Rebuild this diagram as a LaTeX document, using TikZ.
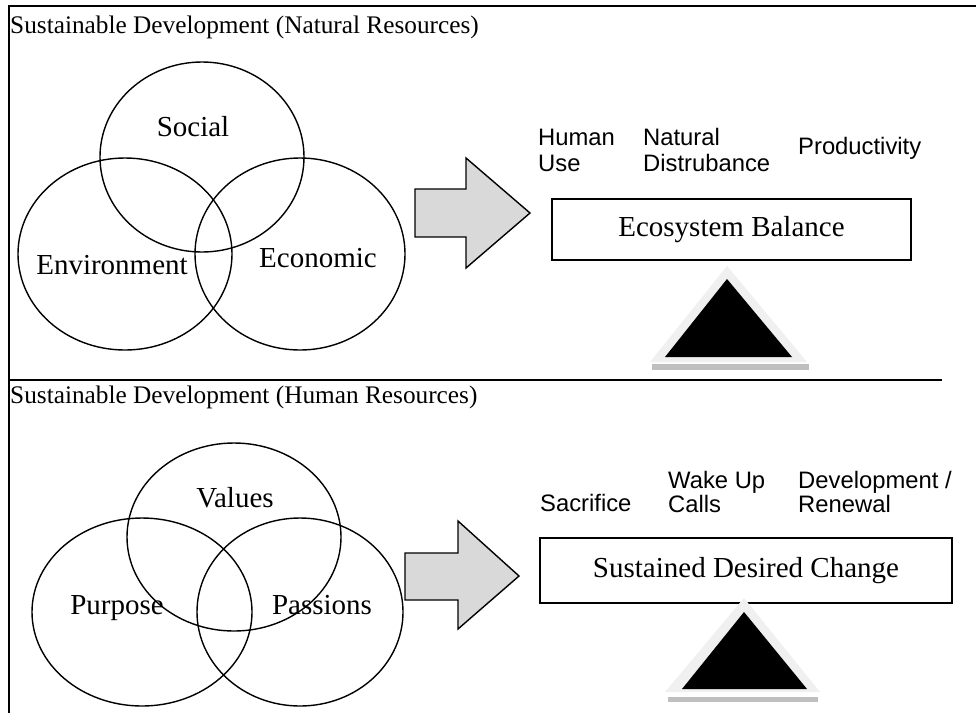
\documentclass[tikz,border=0pt]{standalone}
\usepackage{fontspec}
\setmainfont{Liberation Serif}
\newfontfamily\labelsans{Liberation Sans}
\usetikzlibrary{shapes.geometric}
\definecolor{arrowfill}{HTML}{D9D9D9}
\definecolor{trilight}{HTML}{F0F0F0}
\definecolor{trishadow}{HTML}{BFBFBF}
\begin{document}
\begin{tikzpicture}[x=1pt,y=-1pt,
  frameline/.style={line width=1.6pt},
  vennshape/.style={draw, ellipse, line width=1.4pt, inner sep=0pt},
  vennlabel/.style={font=\fontsize{29}{32}\selectfont, inner sep=0pt},
  titletext/.style={font=\fontsize{25.3}{28}\selectfont, inner sep=0pt, anchor=west},
  sidelabel/.style={font=\labelsans\fontsize{23.8}{26}\selectfont, align=left, inner sep=0pt, anchor=west},
  sidelabeltwo/.style={font=\labelsans\fontsize{23.8}{24}\selectfont, align=left, inner sep=0pt, anchor=west},
  balancebox/.style={draw, line width=1.8pt, inner sep=0pt, font=\fontsize{29}{32}\selectfont},
  blockarrow/.style={draw, fill=arrowfill, line width=1.4pt, line join=miter}
]
\useasboundingbox (0,0) rectangle (976,713);
\fill[white] (0,0) rectangle (976,713);

% frame
\coordinate (tl) at (9,6);
\coordinate (tr) at (976,6);
\coordinate (bl) at (9,713);
\coordinate (ml) at (9,380);
\coordinate (mr) at (942,380);
\draw[frameline] (tr) -- (tl) -- (bl);
\draw[frameline] (ml) -- (mr);

% titles
\node[titletext] (t1) at (10,27) {Sustainable Development (Natural Resources)};
\node[titletext] (t2) at (10,397) {Sustainable Development (Human Resources)};

% Venn 1
\node[vennshape, minimum width=204pt, minimum height=190pt] (social) at (202,157) {};
\node[vennshape, minimum width=214pt, minimum height=192pt] (env) at (125,254) {};
\node[vennshape, minimum width=210pt, minimum height=192pt] (eco) at (300,254) {};
\node[vennlabel] (socialt) at (193,127) {Social};
\node[vennlabel] (envt) at (112,265) {Environment};
\node[vennlabel] (ecot) at (318,258) {Economic};

% arrow 1
\draw[blockarrow] (415,189) -- (466,189) -- (466,158) -- (530,213) -- (466,268) -- (466,237) -- (415,237) -- cycle;

% labels 1
\node[sidelabel] (hu) at (538,150) {Human\\Use};
\node[sidelabel] (nd) at (643,150) {Natural\\Distrubance};
\node[sidelabel] (pr) at (798,148) {Productivity};

% box 1
\node[balancebox, minimum width=359pt, minimum height=61pt] (ecobal) at (731.5,229.5) {Ecosystem Balance};

% triangle 1
\fill[trishadow] (652,364) rectangle (809,370);
\fill[trilight] (650,362) -- (727,266) -- (807,362) -- cycle;
\fill[black] (665,357) -- (727,279) -- (792,357) -- cycle;

% Venn 2
\node[vennshape, minimum width=214pt, minimum height=188pt] (values) at (234,537) {};
\node[vennshape, minimum width=220pt, minimum height=188pt] (purpose) at (142,612) {};
\node[vennshape, minimum width=206pt, minimum height=188pt] (passions) at (300,612) {};
\node[vennlabel] (valuest) at (235,498) {Values};
\node[vennlabel] (purposet) at (117,608) {Purpose};
\node[vennlabel] (passionst) at (322,605) {Passions};

% arrow 2
\draw[blockarrow] (405,553) -- (458,553) -- (458,521) -- (519,576) -- (458,629) -- (458,600) -- (405,600) -- cycle;

% labels 2
\node[sidelabel] (sa) at (540,503) {Sacrifice};
\node[sidelabeltwo] (wu) at (668,491.5) {Wake Up\\Calls};
\node[sidelabeltwo] (dr) at (798,491.5) {Development /\\Renewal};

% box 2
\node[balancebox, minimum width=412pt, minimum height=65pt] (sdc) at (746,570.5) {Sustained Desired Change};

% triangle 2
\fill[trishadow] (668,697) rectangle (818,702);
\fill[trilight] (665,692) -- (744,598) -- (820,692) -- cycle;
\fill[black] (682,689) -- (744,612) -- (807,689) -- cycle;
\end{tikzpicture}
\end{document}
